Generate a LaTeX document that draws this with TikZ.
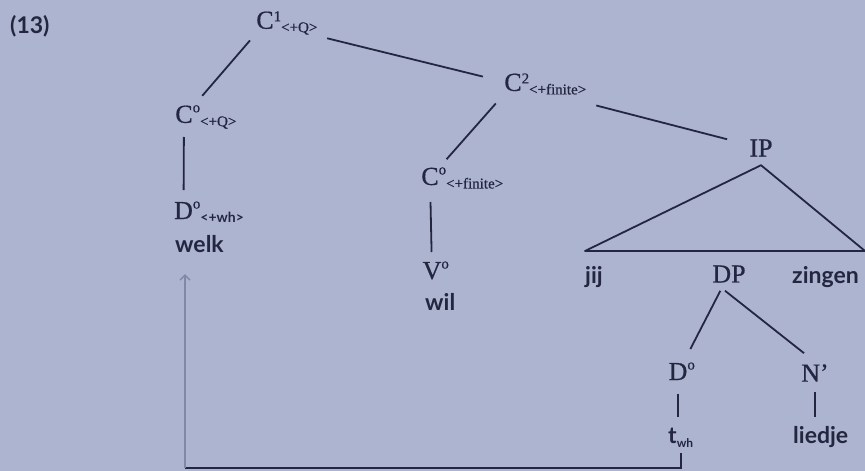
\documentclass[tikz,border=0pt]{standalone}
\usepackage{fontspec}
\setmainfont{Liberation Serif}[FakeBold=0.6]
\newfontfamily\wordfont{Lato}
\usetikzlibrary{arrows.meta}
\definecolor{paper}{RGB}{172,180,208}
\definecolor{ink}{RGB}{36,38,64}
\definecolor{faded}{RGB}{128,136,168}
\newcommand{\supfont}{\fontsize{15}{15}\selectfont}
\newcommand{\subfont}{\fontsize{15}{15}\selectfont}
\newcommand{\zero}{\raisebox{3pt}{o}}
\newcommand{\cat}[3]{#1\rlap{\raisebox{7.5pt}{\supfont #2}\raisebox{-3.5pt}{\subfont #3}}}

\begin{document}
\begin{tikzpicture}[x=1pt,y=-1pt,
  every node/.style={inner sep=0pt,text=ink,font=\fontsize{26}{30}\selectfont},
  word/.style={anchor=base west,font=\wordfont\fontsize{23}{27}\bfseries\selectfont},
  branch/.style={draw=ink,line width=1.8pt},
  trace/.style={draw=faded,line width=1.5pt,-{Straight Barb[length=5pt,width=10pt]}}]
\useasboundingbox (0,0) rectangle (865,471);
\fill[paper] (0,0) rectangle (865,471);
\node (num) [word] at (10,33) {(13)};
% C-layer
\node (c1) at (265,23) {\cat{C}{1}{<+Q>}};
\node (c0q) at (184,117) {\cat{C}{\zero}{<+Q>}};
\node (dwh) at (183.5,212) {\cat{D}{\zero}{\wordfont\bfseries\fontsize{14}{14}\selectfont <+wh>}};
\node (welk) [word] at (175,252) {welk};
\node (c2) at (513,84) {\cat{C}{2}{<+finite>}};
\node (c0f) at (430,178) {\cat{C}{\zero}{<+finite>}};
\node (v) at (432,272) {\cat{V}{\zero}{}};
\node (wil) [word] at (425,310) {wil};
% IP
\node (ip) at (761,148) {IP};
\node (jij) [word] at (585,283) {jij};
\node (dp) at (729,274) {DP};
\node (zingen) [word] at (792,283) {zingen};
\node (d0) at (678,373) {\cat{D}{\zero}{}};
\node (nbar) at (815,373) {N’};
\node (t) [word] at (668,443) {t\raisebox{-4pt}{\fontsize{12}{12}\selectfont wh}};
\node (liedje) [word] at (793,443) {liedje};
\coordinate (tl) at (585,251);
\coordinate (tr) at (865,251);
\coordinate (bend) at (185,468);
\coordinate (land) at (185,274);

\draw[branch,shorten <=23pt,shorten >=28pt] (c1.center) -- (c0q.center);
\draw[branch,shorten <=20pt,shorten >=22pt] (c0q.center) -- (dwh.center);
\draw[branch,shorten <=64pt,shorten >=31pt] (c1.center) -- (c2.center);
\draw[branch,shorten <=26pt,shorten >=25pt] (c2.center) -- (c0f.center);
\draw[branch,shorten <=24pt,shorten >=20pt] (c0f.center) -- (v.center);
\draw[branch,shorten <=86pt,shorten >=35pt] (c2.center) -- (ip.center);
\draw[branch,line join=round] (tl) -- ([yshift=-8.5pt]ip.south) -- (tr) -- cycle;
\draw[branch,shorten <=19pt,shorten >=27pt] (dp.center) -- (d0.center);
\draw[branch] ([xshift=-4pt,yshift=-8pt]dp.south) -- ([xshift=-11pt,yshift=11pt]nbar.north);
\draw[branch,shorten <=10pt,shorten >=10pt] (d0.south) -- (d0.south |- t.north);
\draw[branch,shorten <=10pt,shorten >=9pt] (nbar.south) -- (nbar.south |- liedje.north);
% movement
\draw[branch,shorten <=6pt] (t.south) |- (bend);
\draw[trace] (bend) -- (land);
\end{tikzpicture}
\end{document}
